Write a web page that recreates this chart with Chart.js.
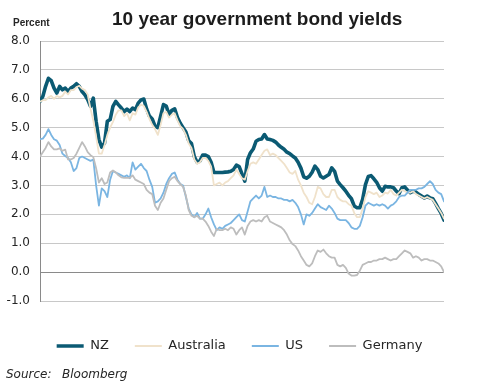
<!DOCTYPE html>
<html><head><meta charset="utf-8">
<script src="https://cdn.jsdelivr.net/npm/chart.js@4/dist/chart.umd.min.js"></script>
<style>
html,body{margin:0;padding:0;background:#fff;}
#wrap{position:relative;width:479px;height:383px;overflow:hidden;background:#fff;}
#c{position:absolute;left:0;top:0;}
.t{position:absolute;white-space:nowrap;line-height:1;color:#262626;}
</style></head><body>
<div id="wrap">
<canvas id="c" width="479" height="383"></canvas>
<div class="t" style="left:112px;top:8px;font:bold 19px 'Liberation Sans',Arial,sans-serif;color:#1c1c1c">10 year government bond yields</div>
<div class="t" style="left:13px;top:17px;font:bold 10px 'Liberation Sans',Arial,sans-serif;">Percent</div>
<div class="t" style="left:6px;top:367px;font:italic 12px 'DejaVu Sans',sans-serif;">Source:</div>
<div class="t" style="left:62px;top:367px;font:italic 12px 'DejaVu Sans',sans-serif;">Bloomberg</div>
</div>
<script>
// Monthly observations, January 2007 to January 2019
const START_YEAR = 2007;
const seriesNames = ['NZ', 'Australia', 'US', 'Germany'];
const xTickYears = [2007, 2009, 2011, 2013, 2015, 2017, 2019];
const yTickValues = [-1, 0, 1, 2, 3, 4, 5, 6, 7, 8];

const nzYields = [
  5.91, 6.08, 6.43, 6.71, 6.63, 6.37, 6.20, 6.43, 6.31, 6.37, 6.25, 6.37,
  6.43, 6.52, 6.43, 6.25, 6.14, 5.97, 5.74, 6.02, 5.22, 4.59, 4.33, 4.47,
  5.22, 5.28, 5.74, 5.91, 5.79, 5.68, 5.56, 5.64, 5.56, 5.68, 5.62, 5.85,
  5.96, 5.99, 5.65, 5.40, 5.30, 5.05, 5.00, 5.40, 5.80, 5.75, 5.45, 5.60,
  5.65, 5.35, 5.15, 5.00, 4.85, 4.55, 4.45, 4.00, 3.80, 3.85, 4.05, 4.05,
  4.00, 3.80, 3.45, 3.45, 3.45, 3.45, 3.46, 3.47, 3.49, 3.55, 3.70, 3.65,
  3.40, 3.15, 3.90, 4.13, 4.26, 4.53, 4.59, 4.61, 4.76, 4.61, 4.59, 4.56,
  4.50, 4.40, 4.32, 4.25, 4.15, 4.10, 4.02, 3.95, 3.80, 3.60, 3.30, 3.25,
  3.32, 3.46, 3.67, 3.55, 3.32, 3.26, 3.32, 3.38, 3.61, 3.49, 3.15, 3.03,
  2.92, 2.80, 2.66, 2.54, 2.29, 2.23, 2.23, 2.52, 3.03, 3.31, 3.34, 3.23,
  3.11, 2.92, 2.80, 2.97, 2.95, 2.95, 2.92, 2.80, 2.72, 2.92, 2.95, 2.84,
  2.75, 2.80, 2.77, 2.69, 2.63, 2.57, 2.63, 2.57, 2.54, 2.38, 2.20, 2.03,
  1.80
];
const australiaYields = [
  5.90, 5.95, 5.95, 6.05, 6.10, 6.00, 6.10, 6.05, 6.10, 6.25, 6.15, 6.30,
  6.30, 6.40, 6.45, 6.35, 6.30, 6.15, 5.65, 5.25, 4.70, 4.10, 4.10, 4.40,
  4.75, 5.00, 5.20, 5.45, 5.60, 5.60, 5.40, 5.50, 5.25, 5.50, 5.45, 5.70,
  5.80, 5.75, 5.55, 5.30, 5.10, 4.95, 4.75, 5.10, 5.50, 5.55, 5.35, 5.45,
  5.50, 5.25, 5.05, 4.95, 4.75, 4.45, 4.30, 3.90, 3.75, 3.80, 3.95, 3.95,
  3.85, 3.65, 3.00, 3.05, 3.10, 3.00, 3.10, 3.15, 3.25, 3.35, 3.55, 3.40,
  3.25, 3.20, 3.50, 3.75, 3.80, 3.75, 3.90, 4.05, 4.20, 4.25, 4.05, 4.10,
  4.05, 3.95, 3.85, 3.75, 3.60, 3.45, 3.40, 3.50, 3.20, 3.00, 2.75, 2.60,
  2.40, 2.35, 2.60, 2.95, 2.90, 2.70, 2.60, 2.60, 2.85, 2.85, 2.60, 2.50,
  2.45, 2.45, 2.35, 2.30, 2.05, 1.90, 1.90, 2.20, 2.60, 2.80, 2.75, 2.70,
  2.75, 2.60, 2.65, 2.75, 2.72, 2.85, 2.70, 2.65, 2.75, 2.85, 2.80, 2.75,
  2.75, 2.80, 2.70, 2.65, 2.60, 2.55, 2.60, 2.55, 2.50, 2.35, 2.20, 2.05,
  1.85
];
const usYields = [
  4.60, 4.62, 4.75, 4.95, 4.75, 4.60, 4.55, 4.40, 4.10, 4.02, 3.95, 3.80,
  3.50, 3.60, 3.95, 4.00, 3.95, 3.90, 3.85, 3.90, 3.00, 2.30, 2.90, 2.80,
  2.60, 3.20, 3.50, 3.45, 3.40, 3.35, 3.30, 3.35, 3.25, 3.80, 3.55, 3.65,
  3.75, 3.60, 3.50, 3.20, 2.95, 2.40, 2.45, 2.55, 2.75, 3.05, 3.25, 3.40,
  3.45, 3.20, 3.05, 3.00, 2.60, 2.20, 2.00, 1.90, 2.05, 1.85, 1.85, 2.00,
  2.20, 1.90, 1.65, 1.45, 1.55, 1.50, 1.60, 1.65, 1.70, 1.80, 1.90, 2.00,
  1.80, 1.75, 2.10, 2.45, 2.55, 2.65, 2.55, 2.65, 2.95, 2.60, 2.65, 2.60,
  2.60, 2.55, 2.55, 2.50, 2.50, 2.45, 2.50, 2.40, 2.25, 2.00, 1.65, 2.00,
  1.95, 2.05, 2.20, 2.35, 2.25, 2.20, 2.15, 2.30, 2.20, 2.05, 1.85, 1.80,
  1.80, 1.80, 1.70, 1.55, 1.50, 1.50, 1.60, 1.90, 2.30, 2.40, 2.35, 2.30,
  2.35, 2.30, 2.35, 2.30, 2.20, 2.30, 2.35, 2.45, 2.60, 2.65, 2.65, 2.75,
  2.85, 2.85, 2.85, 2.90, 2.90, 2.95, 3.05, 3.15, 3.05, 2.85, 2.75, 2.70,
  2.45
];
const germanyYields = [
  4.00, 4.15, 4.30, 4.50, 4.35, 4.25, 4.25, 4.28, 4.20, 4.24, 3.90, 3.90,
  3.95, 4.10, 4.30, 4.50, 4.35, 4.15, 4.05, 3.98, 3.60, 3.10, 3.25, 3.05,
  3.10, 3.45, 3.52, 3.45, 3.35, 3.28, 3.26, 3.26, 3.26, 3.35, 3.20, 3.15,
  3.10, 3.05, 2.85, 2.75, 2.70, 2.30, 2.15, 2.40, 2.55, 2.85, 3.15, 3.25,
  3.30, 3.15, 3.05, 2.95, 2.65, 2.15, 1.95, 1.90, 1.95, 1.85, 1.85, 1.75,
  1.60, 1.40, 1.25, 1.50, 1.45, 1.45, 1.50, 1.45, 1.55, 1.50, 1.30, 1.45,
  1.55, 1.30, 1.60, 1.75, 1.80, 1.75, 1.80, 1.75, 1.90, 1.95, 1.75, 1.70,
  1.65, 1.60, 1.55, 1.45, 1.30, 1.10, 0.97, 0.90, 0.75, 0.55, 0.40, 0.25,
  0.20, 0.30, 0.55, 0.75, 0.70, 0.78, 0.65, 0.55, 0.50, 0.50, 0.25, 0.20,
  0.25, 0.15, -0.05, -0.12, -0.12, -0.10, 0.05, 0.25, 0.30, 0.35, 0.35, 0.40,
  0.40, 0.45, 0.45, 0.50, 0.45, 0.40, 0.45, 0.45, 0.55, 0.65, 0.75, 0.70,
  0.65, 0.50, 0.55, 0.50, 0.40, 0.45, 0.45, 0.40, 0.40, 0.35, 0.30, 0.20,
  0.00
];

function toPoints(vals) {
  return vals.map((v, i) => ({ x: START_YEAR + i / 12, y: v }));
}

const styles = [
  { color: '#0b5a73', width: 3.6, order: 4 },
  { color: '#f0e2cb', width: 1.8, order: 3 },
  { color: '#7ab5e2', width: 1.8, order: 2 },
  { color: '#bdbdbd', width: 1.8, order: 1 }
];
const allSeries = [nzYields, australiaYields, usYields, germanyYields];

const datasets = allSeries.map((vals, k) => ({
  label: seriesNames[k],
  data: toPoints(vals),
  borderColor: styles[k].color,
  backgroundColor: styles[k].color,
  borderWidth: styles[k].width,
  borderJoinStyle: 'round',
  borderCapStyle: 'round',
  pointRadius: 0,
  pointHoverRadius: 0,
  tension: 0,
  fill: false,
  order: styles[k].order
}));

const tickFont = { family: "'DejaVu Sans', sans-serif", size: 12 };

new Chart(document.getElementById('c'), {
  type: 'line',
  data: { datasets },
  options: {
    responsive: false,
    devicePixelRatio: 1,
    animation: false,
    events: [],
    layout: { padding: { left: 0, right: 0, top: 41, bottom: 20.5 } },
    scales: {
      x: {
        type: 'linear',
        min: xTickYears[0],
        max: xTickYears[xTickYears.length - 1],
        border: { display: false },
        grid: { display: false, drawTicks: false },
        afterBuildTicks: s => { s.ticks = xTickYears.map(v => ({ value: v })); },
        ticks: {
          padding: 12, color: '#262626', font: tickFont,
          maxRotation: 0, autoSkip: false,
          callback: v => String(v)
        },
        afterFit: s => { s.height = 12.5; }
      },
      y: {
        min: yTickValues[0],
        max: yTickValues[yTickValues.length - 1],
        afterBuildTicks: s => { s.ticks = yTickValues.map(v => ({ value: v })); },
        border: { display: true, color: '#8a8a8a', width: 1 },
        grid: {
          drawTicks: false,
          lineWidth: 1,
          color: ctx => (ctx.tick && ctx.tick.value === 0) ? '#8a8a8a' : '#c8c8c8'
        },
        ticks: {
          padding: 10, color: '#262626', font: tickFont,
          callback: v => Number(v).toFixed(1)
        },
        afterFit: s => { s.width = 40; }
      },
      yRight: {
        position: 'right',
        display: true,
        grid: { display: false, drawTicks: false },
        border: { display: false },
        ticks: { display: false },
        afterFit: s => { s.width = 35; }
      }
    },
    plugins: {
      title: { display: false },
      tooltip: { enabled: false },
      legend: {
        position: 'bottom',
        labels: {
          usePointStyle: true,
          pointStyle: 'line',
          pointStyleWidth: 27,
          padding: 26,
          color: '#262626',
          font: { family: "'DejaVu Sans', sans-serif", size: 13 },
          sort: (a, b) => a.datasetIndex - b.datasetIndex
        }
      }
    }
  }
});
</script>
</body></html>
